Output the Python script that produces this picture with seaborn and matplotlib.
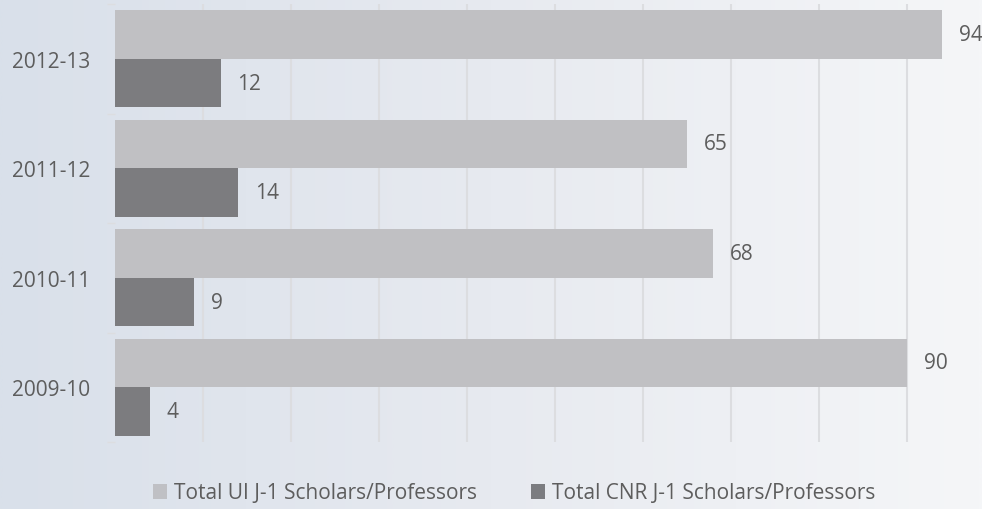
import numpy as np
import pandas as pd
import matplotlib
matplotlib.use("Agg")
import matplotlib.pyplot as plt
from matplotlib.colors import LinearSegmentedColormap
from matplotlib.patches import Patch
import seaborn as sns

# Academic years and J-1 scholar/professor counts
years = ["2012-13", "2011-12", "2010-11", "2009-10"]
ui_totals = [94, 65, 68, 90]
cnr_totals = [12, 14, 9, 4]
series_names = ["Total UI J-1 Scholars/Professors", "Total CNR J-1 Scholars/Professors"]

df = pd.DataFrame({
    "year": years * 2,
    "count": ui_totals + cnr_totals,
    "series": [series_names[0]] * len(years) + [series_names[1]] * len(years),
})

sns.set_theme(style="white")
plt.rcParams["font.family"] = ["Open Sans", "DejaVu Sans"]

text_color = "#5d5d5d"
light_bar = "#bfc0c4"
dark_bar = "#7b7c80"
grid_color = "#dcdde0"
fs = 15

fig = plt.figure(figsize=(9.82, 5.10), dpi=100)

# soft horizontal gradient behind everything
bg = fig.add_axes([0, 0, 1, 1], zorder=-10)
grad = np.linspace(0, 1, 512).reshape(1, -1)
cmap = LinearSegmentedColormap.from_list("bg", ["#d9e0ea", "#e7eaf0", "#f5f6f8"])
bg.imshow(grad, aspect="auto", cmap=cmap, extent=[0, 1, 0, 1])
bg.set_axis_off()

left_px, px_per_unit = 115, 8.8
ax = fig.add_axes([left_px / 982, 67 / 510, (982 - left_px) / 982, 438 / 510])
ax.patch.set_alpha(0)

sns.barplot(
    data=df, y="year", x="count", hue="series", order=years,
    hue_order=series_names, palette=[light_bar, dark_bar],
    orient="h", width=0.89, gap=0, ax=ax, legend=False,
    edgecolor="none", linewidth=0,
)
for c in ax.containers:
    ax.bar_label(c, padding=12, fontsize=fs, color=text_color)

ax.set_xlim(0, (982 - left_px) / px_per_unit)
ax.set_ylim(len(years) - 0.5, -0.5)
ax.set_xticks(np.arange(10, 100, 10))
ax.set_xticklabels([])
ax.tick_params(axis="x", length=0)
ax.xaxis.grid(True, color=grid_color, linewidth=1.5)
ax.set_axisbelow(True)
ax.set_xlabel("")
ax.set_ylabel("")

# category boundary ticks on the left
ax.set_yticks(np.arange(-0.5, len(years), 1), minor=True)
ax.tick_params(axis="y", which="minor", length=6, width=1, color=grid_color, left=True)
ax.tick_params(axis="y", which="major", length=0, pad=18, labelsize=fs, labelcolor=text_color)
for s in ax.spines.values():
    s.set_visible(False)

handles = [Patch(facecolor=light_bar, edgecolor="none"), Patch(facecolor=dark_bar, edgecolor="none")]
fig.legend(handles, series_names, loc="center", bbox_to_anchor=(514 / 982, 1 - 494 / 510),
           ncol=2, frameon=False, fontsize=fs, labelcolor=text_color,
           handlelength=0.7, handleheight=0.7, handletextpad=0.3, columnspacing=2.6)

fig.savefig("out.png", dpi=100)
